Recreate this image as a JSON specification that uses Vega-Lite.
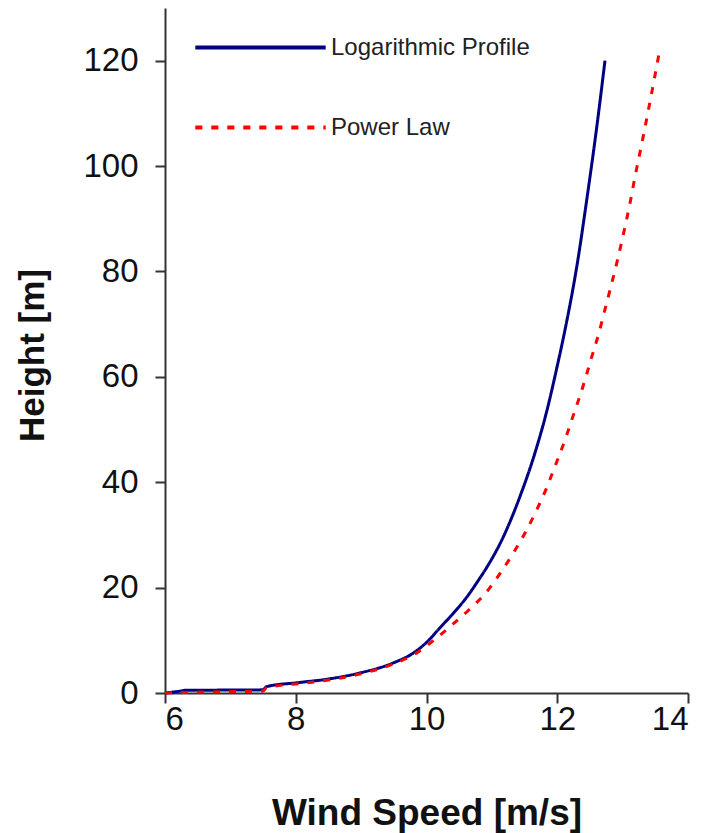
{
  "$schema": "https://vega.github.io/schema/vega-lite/v6.json",
  "width": 523,
  "height": 685,
  "autosize": {"type": "none"},
  "padding": {"left": 165, "top": 8, "right": 34, "bottom": 140},
  "background": "white",
  "config": {
    "view": {"stroke": null},
    "font": "Liberation Sans",
    "axis": {"grid": false, "domainColor": "#333", "domainWidth": 2, "tickColor": "#333", "tickWidth": 2, "tickSize": 10, "labelColor": "#111", "labelFont": "Liberation Sans", "titleFont": "Liberation Sans", "titleColor": "#111", "titleFontWeight": "bold"}
  },
  "data": {"values": [
    {"profile": "Logarithmic Profile", "speed": 6.0, "height": 0.0},
    {"profile": "Logarithmic Profile", "speed": 6.25, "height": 0.4},
    {"profile": "Logarithmic Profile", "speed": 6.3, "height": 0.5},
    {"profile": "Logarithmic Profile", "speed": 7.5, "height": 0.6},
    {"profile": "Logarithmic Profile", "speed": 7.55, "height": 1.2},
    {"profile": "Logarithmic Profile", "speed": 8.06, "height": 2.0},
    {"profile": "Logarithmic Profile", "speed": 8.47, "height": 2.6},
    {"profile": "Logarithmic Profile", "speed": 8.98, "height": 3.8},
    {"profile": "Logarithmic Profile", "speed": 9.49, "height": 5.7},
    {"profile": "Logarithmic Profile", "speed": 9.8, "height": 7.6},
    {"profile": "Logarithmic Profile", "speed": 10.0, "height": 9.6},
    {"profile": "Logarithmic Profile", "speed": 10.2, "height": 12.3},
    {"profile": "Logarithmic Profile", "speed": 10.4, "height": 15.0},
    {"profile": "Logarithmic Profile", "speed": 10.61, "height": 18.1},
    {"profile": "Logarithmic Profile", "speed": 10.8, "height": 21.5},
    {"profile": "Logarithmic Profile", "speed": 10.92, "height": 23.8},
    {"profile": "Logarithmic Profile", "speed": 11.17, "height": 29.5},
    {"profile": "Logarithmic Profile", "speed": 11.43, "height": 37.3},
    {"profile": "Logarithmic Profile", "speed": 11.66, "height": 45.6},
    {"profile": "Logarithmic Profile", "speed": 11.84, "height": 53.5},
    {"profile": "Logarithmic Profile", "speed": 11.99, "height": 61.5},
    {"profile": "Logarithmic Profile", "speed": 12.12, "height": 69.0},
    {"profile": "Logarithmic Profile", "speed": 12.3, "height": 81.0},
    {"profile": "Logarithmic Profile", "speed": 12.45, "height": 93.5},
    {"profile": "Logarithmic Profile", "speed": 12.6, "height": 107.0},
    {"profile": "Logarithmic Profile", "speed": 12.73, "height": 120.0},
    {"profile": "Power Law", "speed": 6.0, "height": 0.0},
    {"profile": "Power Law", "speed": 6.7, "height": 0.2},
    {"profile": "Power Law", "speed": 7.5, "height": 0.4},
    {"profile": "Power Law", "speed": 7.55, "height": 1.0},
    {"profile": "Power Law", "speed": 8.06, "height": 1.8},
    {"profile": "Power Law", "speed": 8.47, "height": 2.4},
    {"profile": "Power Law", "speed": 8.98, "height": 3.6},
    {"profile": "Power Law", "speed": 9.49, "height": 5.5},
    {"profile": "Power Law", "speed": 9.85, "height": 7.6},
    {"profile": "Power Law", "speed": 10.1, "height": 9.9},
    {"profile": "Power Law", "speed": 10.36, "height": 12.6},
    {"profile": "Power Law", "speed": 10.66, "height": 15.9},
    {"profile": "Power Law", "speed": 10.92, "height": 19.2},
    {"profile": "Power Law", "speed": 11.12, "height": 22.6},
    {"profile": "Power Law", "speed": 11.33, "height": 26.6},
    {"profile": "Power Law", "speed": 11.53, "height": 30.9},
    {"profile": "Power Law", "speed": 11.68, "height": 34.6},
    {"profile": "Power Law", "speed": 11.84, "height": 39.0},
    {"profile": "Power Law", "speed": 11.94, "height": 42.2},
    {"profile": "Power Law", "speed": 12.04, "height": 45.4},
    {"profile": "Power Law", "speed": 12.14, "height": 48.8},
    {"profile": "Power Law", "speed": 12.24, "height": 52.5},
    {"profile": "Power Law", "speed": 12.35, "height": 56.5},
    {"profile": "Power Law", "speed": 12.45, "height": 60.5},
    {"profile": "Power Law", "speed": 12.52, "height": 63.5},
    {"profile": "Power Law", "speed": 12.63, "height": 68.0},
    {"profile": "Power Law", "speed": 12.73, "height": 72.8},
    {"profile": "Power Law", "speed": 12.83, "height": 77.6},
    {"profile": "Power Law", "speed": 12.93, "height": 82.6},
    {"profile": "Power Law", "speed": 13.01, "height": 87.0},
    {"profile": "Power Law", "speed": 13.11, "height": 92.8},
    {"profile": "Power Law", "speed": 13.19, "height": 98.0},
    {"profile": "Power Law", "speed": 13.31, "height": 105.3},
    {"profile": "Power Law", "speed": 13.42, "height": 112.3},
    {"profile": "Power Law", "speed": 13.57, "height": 122.2}
  ]},
  "mark": {"type": "line", "strokeWidth": 3, "interpolate": "monotone"},
  "encoding": {
    "x": {
      "field": "speed", "type": "quantitative",
      "scale": {"domain": [6, 14], "nice": false, "zero": false},
      "axis": {"values": [6, 8, 10, 12, 14], "labelFontSize": 33, "labelPadding": 0, "title": "Wind Speed [m/s]", "titleFontSize": 37, "titleX": 261.5, "titleY": 131, "titleAlign": "center", "titleBaseline": "alphabetic"}
    },
    "y": {
      "field": "height", "type": "quantitative",
      "scale": {"domain": [0, 130], "nice": false},
      "axis": {"values": [0, 20, 40, 60, 80, 100, 120], "labelFontSize": 33, "labelPadding": 17, "title": "Height [m]", "titleFontSize": 35, "titleX": -122, "titleY": 347, "titleAngle": -90, "titleAlign": "center", "titleBaseline": "alphabetic"}
    },
    "color": {
      "field": "profile", "type": "nominal",
      "scale": {"domain": ["Logarithmic Profile", "Power Law"], "range": ["#000080", "#ff0000"]},
      "legend": {"title": null, "orient": "none", "legendX": 28, "legendY": -28, "symbolType": "stroke", "symbolSize": 17000, "symbolStrokeWidth": 4, "labelFontSize": 24, "labelColor": "#222", "labelOffset": 3, "labelLimit": 0, "rowPadding": -2}
    },
    "strokeDash": {
      "field": "profile", "type": "nominal",
      "scale": {"domain": ["Logarithmic Profile", "Power Law"], "range": [[1, 0], [7, 9]]}
    }
  }
}
